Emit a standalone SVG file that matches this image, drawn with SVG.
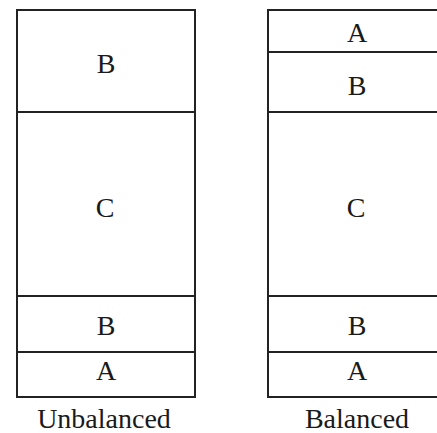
<svg xmlns="http://www.w3.org/2000/svg" width="437" height="433" viewBox="0 0 437 433">
<style>
.cell{fill:#fff;stroke:#222;stroke-width:2}
.t{font-family:"Liberation Serif","Times New Roman",serif;font-size:28px;fill:#1a1a1a;text-anchor:middle}
</style>
<rect width="437" height="433" fill="#fff"/>
<g id="unbalanced">
<g id="u-B-top"><rect class="cell" x="17" y="10" width="178" height="102"/><text class="t" x="106" y="73">B</text></g>
<g id="u-C"><rect class="cell" x="17" y="112" width="178" height="184"/><text class="t" x="105" y="217">C</text></g>
<g id="u-B"><rect class="cell" x="17" y="296" width="178" height="56"/><text class="t" x="106" y="335">B</text></g>
<g id="u-A"><rect class="cell" x="17" y="352" width="178" height="45"/><text class="t" x="106" y="380">A</text></g>
<text id="u-label" class="t" x="104" y="428">Unbalanced</text>
</g>
<g id="balanced">
<g id="b-A-top"><rect class="cell" x="268" y="10" width="178" height="42"/><text class="t" x="357" y="42">A</text></g>
<g id="b-B-top"><rect class="cell" x="268" y="52" width="178" height="60"/><text class="t" x="357" y="95">B</text></g>
<g id="b-C"><rect class="cell" x="268" y="112" width="178" height="184"/><text class="t" x="356" y="217">C</text></g>
<g id="b-B"><rect class="cell" x="268" y="296" width="178" height="56"/><text class="t" x="357" y="335">B</text></g>
<g id="b-A"><rect class="cell" x="268" y="352" width="178" height="45"/><text class="t" x="357" y="380">A</text></g>
<text id="b-label" class="t" x="357" y="428">Balanced</text>
</g>
<g id="connectors"/>
</svg>
